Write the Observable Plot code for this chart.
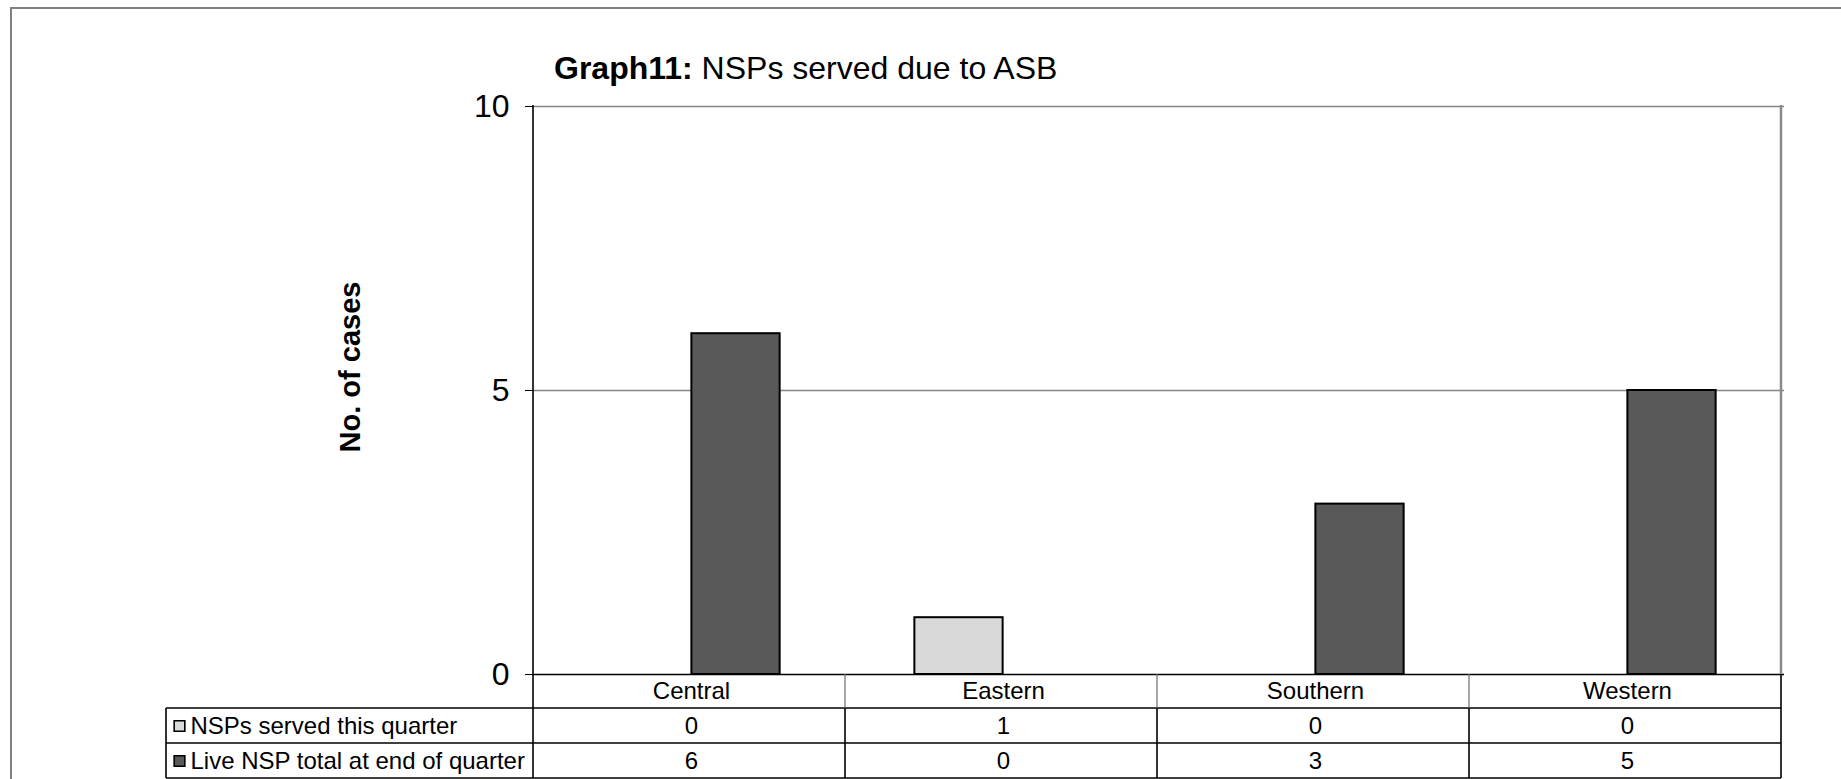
<!DOCTYPE html>
<html><head><meta charset="utf-8">
<script src="https://cdn.jsdelivr.net/npm/d3@7"></script>
<script src="https://cdn.jsdelivr.net/npm/@observablehq/plot@0.6"></script>
<style>
html,body{margin:0;padding:0;background:#fff;overflow:hidden;}
body{width:1841px;height:779px;position:relative;font-family:"Liberation Sans",Arial,sans-serif;}
#border{position:absolute;left:10px;top:7px;width:1900px;height:900px;border:2px solid #808080;box-sizing:border-box;pointer-events:none;}
#title{position:relative;height:92px;}
#title span{position:absolute;left:554px;top:52px;font-size:32px;line-height:32px;color:#000;white-space:nowrap;}
#chart{position:relative;height:687px;}
#chart svg{display:block;}
</style></head><body>
<div id="border"></div>
<div id="title"><span><b>Graph11:</b> NSPs served due to ASB</span></div>
<div id="chart"></div>
<script>
// ---- data ----
const categories = ["Central", "Eastern", "Southern", "Western"];
const seriesNames = ["NSPs served this quarter", "Live NSP total at end of quarter"];
const servedThisQuarter = [0, 1, 0, 0];
const liveTotal = [6, 0, 3, 5];
const yTicks = [0, 5, 10];
const yLabel = "No. of cases";

// ---- styles ----
const seriesColors = ["#d9d9d9", "#595959"];
const W = 1841, H = 687, ML = 533, MR = 57, MT = 14, MB = 105;
const bw = (W - ML - MR) / categories.length;
const barW = bw * 0.2846;
const TXT = 24;

const seriesValues = [servedThisQuarter, liveTotal];
const rows = [];
seriesValues.forEach((vals, s) => categories.forEach((c, i) => rows.push({category: c, s, series: seriesNames[s], value: vals[i]})));

const barsFor = s => Plot.barY(rows.filter(d => d.s === s && d.value !== 0), {
  x: "category", y: "value", fill: seriesColors[s], stroke: "#000", strokeWidth: 2,
  insetLeft: s === 0 ? bw / 2 - barW : bw / 2,
  insetRight: s === 0 ? bw / 2 : bw / 2 - barW
});

const rowCenters = [17, 51.5, 86.5];
const textShift = 0.32 * TXT;

const rowText = (s, dy) => Plot.text(categories.map((c, i) => ({category: c, v: seriesValues[s][i]})), {
  x: "category", text: d => String(d.v), frameAnchor: "bottom", dy: dy + textShift, fontSize: TXT, fill: "#000"
});

const plot = Plot.plot({
  width: W, height: H,
  marginLeft: ML, marginRight: MR, marginTop: MT, marginBottom: MB,
  style: {fontFamily: "'Liberation Sans', Arial, sans-serif", fontSize: "32px", color: "#000", background: "transparent", overflow: "visible"},
  x: {domain: categories, padding: 0, axis: null},
  y: {domain: [0, 10], ticks: yTicks, tickSize: 8, tickPadding: 16, label: null, tickFormat: d => String(d)},
  marks: [
    Plot.ruleY([5, 10], {stroke: "#858585", strokeWidth: 1.6}),
    barsFor(0),
    barsFor(1),
    Plot.ruleY([0], {stroke: "#000", strokeWidth: 1.6}),
    Plot.text(categories, {x: d => d, text: d => d, frameAnchor: "bottom", dy: rowCenters[0] + textShift, fontSize: TXT, fill: "#000"}),
    rowText(0, rowCenters[1]),
    rowText(1, rowCenters[2]),
    Plot.text([seriesNames[0]], {text: d => d, frameAnchor: "bottom-left", dx: -(ML - 190), dy: rowCenters[1] + textShift, textAnchor: "start", fontSize: TXT, fill: "#000"}),
    Plot.text([seriesNames[1]], {text: d => d, frameAnchor: "bottom-left", dx: -(ML - 190), dy: rowCenters[2] + textShift, textAnchor: "start", fontSize: TXT, fill: "#000"}),
    Plot.dot([seriesNames[0]], {frameAnchor: "bottom-left", dx: -(ML - 179), dy: rowCenters[1], symbol: "square", r: 6, fill: seriesColors[0], stroke: "#000", strokeWidth: 1.6}),
    Plot.dot([seriesNames[1]], {frameAnchor: "bottom-left", dx: -(ML - 179), dy: rowCenters[2], symbol: "square", r: 6, fill: seriesColors[1], stroke: "#000", strokeWidth: 1.6})
  ]
});
document.getElementById("chart").appendChild(plot);

// ---- axis line, plot border, y title and data-table grid, positioned with Plot's scales ----
const xs = plot.scale("x"), ys = plot.scale("y");
const svg = d3.select(plot);
const step = xs.step || bw;
const x0 = xs.range[0];
const xEnd = x0 + step * categories.length;
const yTop = ys.apply(10), yBase = ys.apply(0);
const tableLeft = 166;
const rowY = [yBase, yBase + 34, yBase + 69, yBase + 104];
const g = svg.append("g").attr("fill", "none");
// y-axis title
svg.append("text")
  .attr("transform", `translate(350,${(yTop + yBase) / 2 - 23}) rotate(-90)`)
  .attr("text-anchor", "middle").attr("dy", "0.35em")
  .attr("font-weight", "bold").attr("font-size", 29).attr("fill", "#000")
  .text(yLabel);
// right border of plot area (gray)
g.append("line").attr("x1", xEnd).attr("x2", xEnd).attr("y1", yTop - 1).attr("y2", yBase).attr("stroke", "#8a8a8a").attr("stroke-width", 2.5);
// left axis line
g.append("line").attr("x1", x0).attr("x2", x0).attr("y1", yTop - 1).attr("y2", rowY[3]).attr("stroke", "#000").attr("stroke-width", 1.6);
// horizontal table lines
[rowY[1], rowY[2], rowY[3]].forEach(y => g.append("line").attr("x1", tableLeft).attr("x2", xEnd).attr("y1", y).attr("y2", y).attr("stroke", "#000").attr("stroke-width", 1.6));
// vertical table lines
g.append("line").attr("x1", tableLeft).attr("x2", tableLeft).attr("y1", rowY[1]).attr("y2", rowY[3]).attr("stroke", "#000").attr("stroke-width", 1.6);
categories.forEach((c, i) => {
  if (i === 0) return;
  const x = x0 + step * i;
  g.append("line").attr("x1", x).attr("x2", x).attr("y1", rowY[0]).attr("y2", rowY[1]).attr("stroke", "#6a6a6a").attr("stroke-width", 1.2);
  g.append("line").attr("x1", x).attr("x2", x).attr("y1", rowY[1]).attr("y2", rowY[3]).attr("stroke", "#000").attr("stroke-width", 1.6);
});
g.append("line").attr("x1", xEnd).attr("x2", xEnd).attr("y1", rowY[0]).attr("y2", rowY[3]).attr("stroke", "#000").attr("stroke-width", 1.6);
</script>
</body></html>
